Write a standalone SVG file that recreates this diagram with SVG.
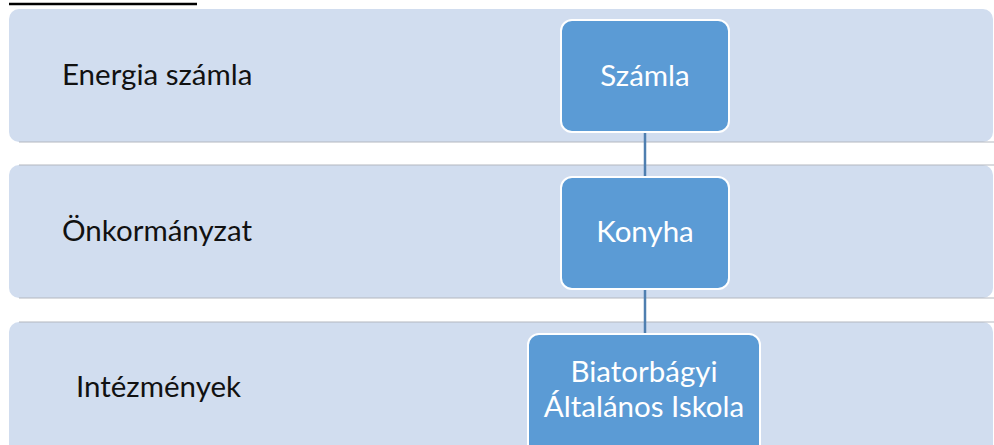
<svg xmlns="http://www.w3.org/2000/svg" width="994" height="445" viewBox="0 0 994 445">
<style>
.band{fill:#d1ddef}
.edge{stroke:#b4b8c0;stroke-width:1.2}
.node{fill:#5b9bd5;stroke:#ffffff;stroke-width:2}
.lbl{font-family:Lato,"Open Sans",sans-serif;font-size:29.5px;fill:#111111}
.ntx{font-family:Lato,"Open Sans",sans-serif;font-size:29.5px;fill:#ffffff;text-anchor:middle}
.conn{stroke:#4f7fb0;stroke-width:2.5;fill:none}
</style>
<rect width="994" height="445" fill="#ffffff"/>
<line x1="9" y1="4" x2="197" y2="4" stroke="#000" stroke-width="2.5"/>
<g id="band1"><rect class="band" x="9" y="9" width="984" height="133" rx="10"/><line class="edge" x1="19" y1="142" x2="994" y2="142"/><text class="lbl" x="62" y="85">Energia számla</text></g>
<g id="band2"><rect class="band" x="9" y="165" width="984" height="133" rx="10"/><line class="edge" x1="19" y1="165" x2="994" y2="165"/><line class="edge" x1="19" y1="298" x2="994" y2="298"/><text class="lbl" x="62" y="241">Önkormányzat</text></g>
<g id="band3"><rect class="band" x="9" y="322" width="984" height="140" rx="10"/><line class="edge" x1="19" y1="322" x2="994" y2="322"/><text class="lbl" x="76" y="397">Intézmények</text></g>
<g id="connectors">
<line class="conn" x1="645" y1="132" x2="645" y2="177"/>
<line class="conn" x1="645" y1="289" x2="645" y2="334"/>
</g>
<g id="szamla"><rect class="node" x="561" y="20" width="168" height="112" rx="11"/><text class="ntx" x="645" y="86">Számla</text></g>
<g id="konyha"><rect class="node" x="561" y="177" width="168" height="112" rx="11"/><text class="ntx" x="645" y="242">Konyha</text></g>
<g id="iskola"><rect class="node" x="528" y="334" width="232" height="125" rx="11"/><text class="ntx" x="644" y="382">Biatorbágyi</text><text class="ntx" x="644" y="417">Általános Iskola</text></g>
</svg>
